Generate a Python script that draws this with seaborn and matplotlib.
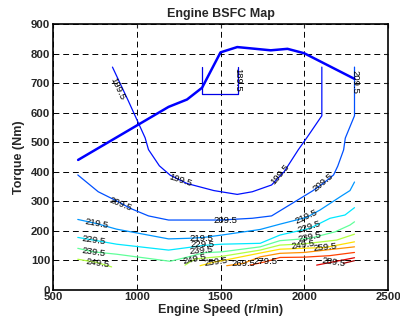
import matplotlib
matplotlib.use("Agg")
import matplotlib.pyplot as plt
import seaborn as sns

sns.set_theme(style="white")
plt.rcParams['font.family'] = ['Liberation Sans', 'DejaVu Sans']

# Max torque curve (Nm vs r/min)
max_speed = [650, 1190, 1300, 1390, 1500, 1600, 1800, 1900, 2000, 2300]
max_torque = [440, 620, 645, 685, 805, 823, 812, 817, 802, 715]

# BSFC contour lines (g/kWh)
levels = [189.5, 199.5, 209.5, 219.5, 229.5, 239.5, 249.5, 249.5, 259.5, 269.5, 279.5, 289.5, 299.5]
speeds = [
    [1390, 1390, 1603, 1603],
    [855, 950, 1050, 1070, 1135, 1200, 1300, 1460, 1600, 1690, 1805, 1880, 1965, 2015, 2105, 2105],
    [648, 770, 890, 960, 1070, 1190, 1360, 1500, 1690, 1805, 1935, 2050, 2115, 2175, 2200, 2235, 2245, 2300, 2300],
    [648, 760, 880, 1190, 1310, 1400, 1507, 1737, 1855, 2014, 2094, 2223, 2273, 2300],
    [648, 741, 880, 1190, 1310, 1400, 1507, 1737, 1855, 2034, 2154, 2243, 2300],
    [648, 741, 880, 1199, 1308, 1400, 1507, 1737, 1855, 2034, 2184, 2273, 2300],
    [648, 761, 850],
    [1288, 1348, 1500, 1737, 1855, 1995, 2194, 2300],
    [1378, 1467, 1500, 1737, 1855, 2127, 2300],
    [1537, 1636, 1737, 1855, 2000, 2300],
    [1676, 1766, 1855, 2000, 2150, 2300],
    [2074, 2173, 2300],
    [2233, 2300],
]
torques = [
    [755, 663, 663, 755],
    [755, 640, 515, 475, 420, 388, 360, 336, 323, 332, 355, 400, 475, 515, 590, 755],
    [389, 332, 298, 276, 250, 236, 236, 236, 242, 250, 295, 335, 361, 389, 419, 474, 514, 590, 755],
    [238, 224, 205, 172, 174, 177, 185, 204, 222, 245, 270, 318, 336, 365],
    [177, 168, 154, 134, 143, 150, 154, 157, 185, 208, 242, 253, 278],
    [140, 128, 120, 96, 111, 125, 128, 145, 166, 174, 196, 219, 230],
    [103, 92, 77],
    [83, 104, 112, 134, 151, 155, 168, 188],
    [81, 94, 97, 124, 137, 143, 162],
    [81, 89, 111, 123, 126, 145],
    [83, 94, 109, 110, 115, 126],
    [83, 94, 108],
    [89, 98],
]
line_colors = ['#0000e6', '#0010ff', '#0050ff', '#0096ff', '#00e8ff', '#60ff9a', '#b0ff40',
               '#b0ff40', '#ffe000', '#ff9000', '#ff4000', '#e00000', '#a00000']

# label text, position and angle
label_text = ['189.5', '199.5', '199.5', '199.5', '209.5', '209.5', '209.5', '209.5',
              '219.5', '219.5', '219.5', '229.5', '229.5', '229.5',
              '239.5', '239.5', '239.5', '249.5', '249.5', '249.5',
              '259.5', '259.5', '269.5', '279.5', '289.5']
label_x = [1606, 885, 1258, 1856, 900, 1530, 2114, 2300,
           760, 1385, 2014, 745, 1395, 2030,
           745, 1385, 2030, 765, 1345, 1995,
           1470, 2127, 1636, 1766, 2173]
label_y = [712, 680, 372, 392, 290, 236, 363, 703,
           224, 174, 247, 166, 153, 211,
           128, 132, 178, 90, 104, 152,
           94, 143, 89, 94, 94]
label_rot = [-90, -65, -18, 50, -22, 0, 40, -90,
             -10, 0, 25, -8, 0, 18,
             -8, 5, 12, -8, 12, 8,
             8, 6, 0, 0, -8]

fig, ax = plt.subplots(figsize=(4, 3.25), dpi=100)
fig.subplots_adjust(left=0.1325, right=0.97, top=0.925, bottom=0.109)

for xs, ys, c in zip(speeds, torques, line_colors):
    sns.lineplot(x=xs, y=ys, sort=False, estimator=None, color=c, lw=0.9, ax=ax)

sns.lineplot(x=max_speed, y=max_torque, sort=False, estimator=None,
             color='#0000ff', lw=1.8, ax=ax)

for t, x, y, r in zip(label_text, label_x, label_y, label_rot):
    ax.text(x, y, t, rotation=r, ha='center', va='center', fontsize=6.8,
            color='black', rotation_mode='anchor', zorder=5)

ax.set_xlim(500, 2500)
ax.set_ylim(0, 900)
ax.set_xticks(range(500, 2501, 500))
ax.set_yticks(range(0, 901, 100))
ax.grid(True, color='black', linestyle=(0, (6, 4)), lw=0.7)
ax.tick_params(direction='in', top=True, right=True, length=3, width=0.8,
               labelsize=8.2, pad=2)
for lab in ax.get_xticklabels() + ax.get_yticklabels():
    lab.set_fontweight('bold')
for s in ax.spines.values():
    s.set_color('black')
    s.set_linewidth(1.2)

ax.set_title('Engine BSFC Map', fontsize=9, fontweight='bold', pad=5)
ax.set_xlabel('Engine Speed (r/min)', fontsize=9, fontweight='bold', labelpad=1)
ax.set_ylabel('Torque (Nm)', fontsize=9, fontweight='bold', labelpad=4)

fig.savefig('out.png', dpi=100)
